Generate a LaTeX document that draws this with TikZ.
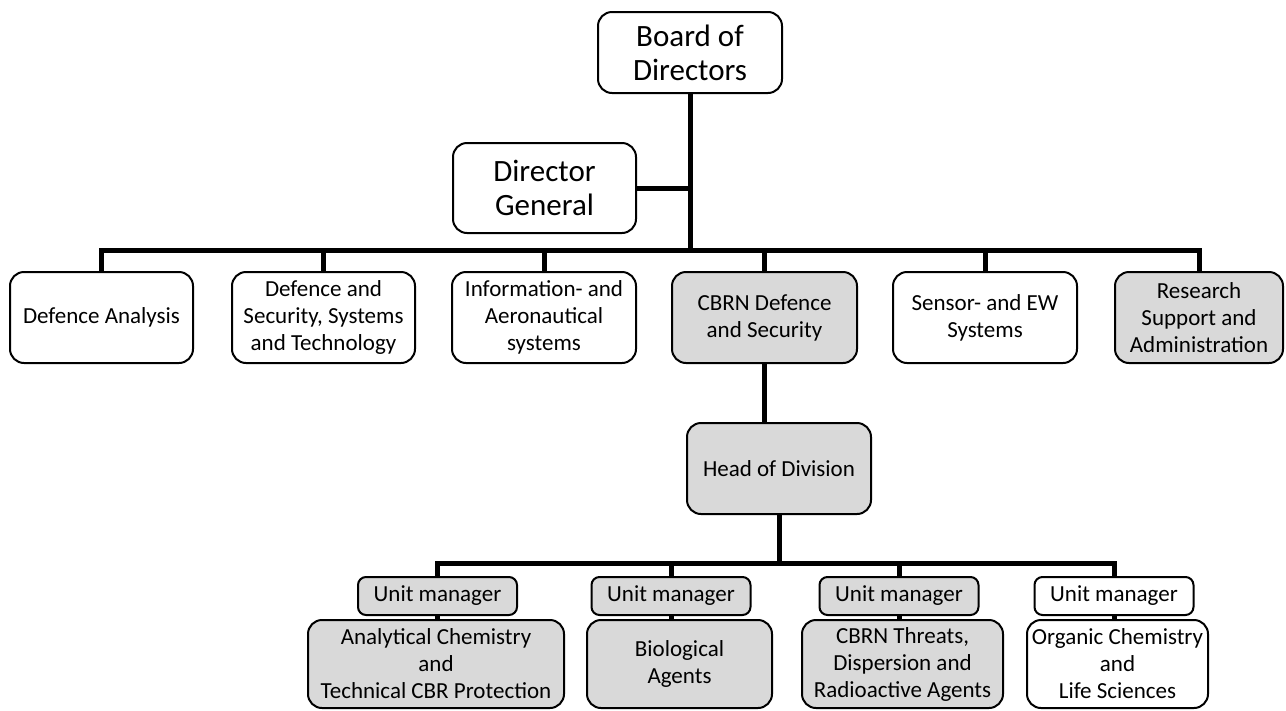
\documentclass[tikz,border=0pt]{standalone}
\usepackage{fontspec}
\setmainfont{Carlito}
\usepackage{tikz}
\definecolor{boxgray}{HTML}{D9D9D9}
\tikzset{
  unit/.style={draw, line width=2pt, rounded corners=14pt, align=center, inner sep=0pt,
    font=\fontsize{23}{27}\selectfont},
  top/.style={unit, font=\fontsize{31}{34}\selectfont},
  shaded/.style={fill=boxgray},
  link/.style={line width=5pt}
}

\begin{document}
\begin{tikzpicture}[x=1pt, y=-1pt]
\useasboundingbox (0,0) rectangle (1286,710);

\node[top, minimum width=184, minimum height=81] (bod) at (690,52.5) {Board of\\Directors};
\node[top, minimum width=183, minimum height=90] (dg) at (544.5,188) {Director\\General};

\node[unit, minimum width=183, minimum height=91] (da) at (101.5,317.5) {Defence Analysis};
\node[unit, minimum width=183, minimum height=91] (dsst) at (323.5,317.5) {Defence and\\Security, Systems\\and Technology};
\node[unit, minimum width=184, minimum height=91] (ias) at (544,317.5) {Information- and\\Aeronautical\\systems};
\node[unit, shaded, minimum width=185, minimum height=91] (cbrn) at (764.5,317.5) {CBRN Defence\\and Security};
\node[unit, minimum width=184, minimum height=91] (sew) at (985,317.5) {Sensor- and EW\\Systems};
\node[unit, shaded, minimum width=168, minimum height=91] (rsa) at (1199,317.5) {Research\\Support and\\Administration};

\node[unit, shaded, minimum width=184, minimum height=91] (hod) at (779,468.5) {Head of Division};

\node[unit, shaded, rounded corners=8pt, minimum width=159, minimum height=38] (um1) at (437.5,596) {Unit manager};
\node[unit, shaded, rounded corners=8pt, minimum width=159, minimum height=38] (um2) at (671,596) {Unit manager};
\node[unit, shaded, rounded corners=8pt, minimum width=159, minimum height=38] (um3) at (899,596) {Unit manager};
\node[unit, rounded corners=8pt, minimum width=159, minimum height=38] (um4) at (1114,596) {Unit manager};

\node[unit, shaded, minimum width=256, minimum height=88] (acp) at (436,664) {Analytical Chemistry\\and\\Technical CBR Protection};
\node[unit, shaded, minimum width=185, minimum height=88] (bio) at (679.5,664) {Biological\\Agents};
\node[unit, shaded, minimum width=201, minimum height=88] (thr) at (902.5,664) {CBRN Threats,\\Dispersion and\\Radioactive Agents};
\node[unit, minimum width=181, minimum height=88] (ocl) at (1117.5,664) {Organic Chemistry\\and\\Life Sciences};

\coordinate (bus) at (1199,250);
\coordinate (ubus) at (1114,563);

\draw[link] (bod) to (bod.south |- bus);
\draw[link] (dg.east) to (dg.east -| bod.south);
\draw[link] (da.north) |- (bus) -- (rsa.north);
\draw[link] (dsst.north) to (dsst.north |- bus);
\draw[link] (ias.north) to (ias.north |- bus);
\draw[link] (cbrn.north) to (cbrn.north |- bus);
\draw[link] (sew.north) to (sew.north |- bus);
\draw[link] (cbrn.south) to (cbrn.south |- hod.north);
\draw[link] (hod.south) to (hod.south |- ubus);
\draw[link] (um1.north) |- (ubus) -- (um4.north);
\draw[link] (um2.north) to (um2.north |- ubus);
\draw[link] (um3.north) to (um3.north |- ubus);
\draw[link] (um1.south) to (um1.south |- acp.north);
\draw[link] (um2.south) to (um2.south |- bio.north);
\draw[link] (um3.south) to (um3.south |- thr.north);
\draw[link] (um4.south) to (um4.south |- ocl.north);
\end{tikzpicture}
\end{document}
